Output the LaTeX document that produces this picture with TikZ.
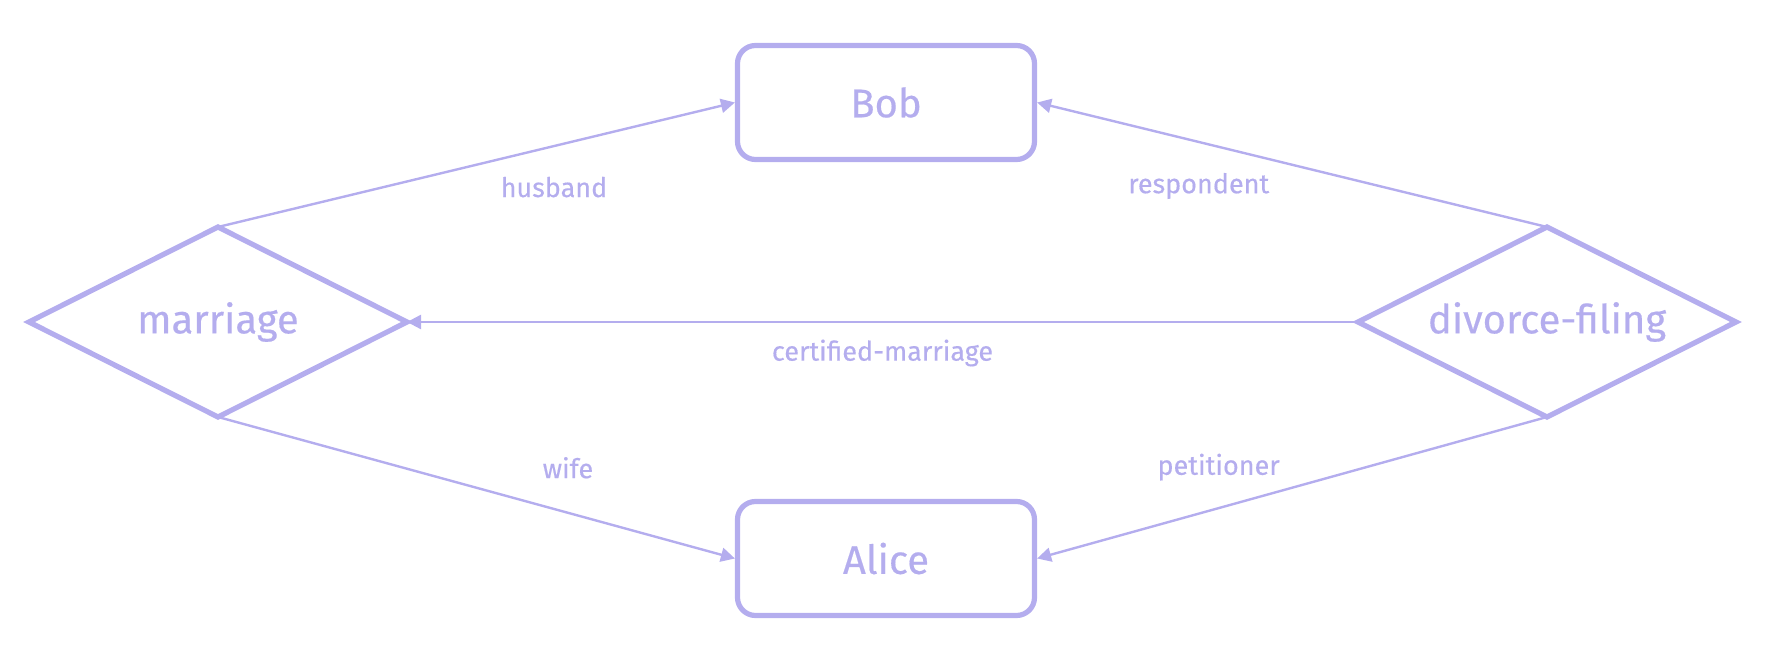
\documentclass[tikz,border=0pt]{standalone}
\usepackage{fontspec}
\setmainfont{Fira Sans}[FakeBold=0.4]
\usepackage{tikz}
\usetikzlibrary{arrows.meta, shapes.geometric}
\definecolor{lavender}{RGB}{180,173,238}

\begin{document}
\begin{tikzpicture}[x=0.5pt, y=-0.5pt,
	entity/.style={draw=lavender, line width=2.6pt, rounded corners=9pt,
		minimum width=148.5pt, minimum height=57pt, text=lavender,
		font=\fontsize{20}{24}\selectfont},
	relation/.style={diamond, draw=lavender, line width=2.6pt, outer sep=0pt,
		minimum width=189pt, minimum height=95pt, inner sep=0pt, text=lavender,
		font=\fontsize{20}{24}\selectfont},
	link/.style={draw=lavender, line width=1.2pt, -{Triangle[length=7pt, width=7pt]}},
	lbl/.style={text=lavender, font=\fontsize{13.5}{16}\selectfont}]
	\useasboundingbox (0,0) rectangle (1773,672);

	\node[entity] (bob) at (886,102.5) {Bob};
	\node[entity] (alice) at (886,558.5) {Alice};

	\node[relation] (marriage) at (218,322) {\makebox[0pt]{marriage}};
	\node[relation] (divorce) at (1547,322) {\makebox[0pt]{divorce-filing}};

	\draw[link] (marriage.north) -- node[lbl, pos=0.65, yshift=-20.5pt] {husband} (bob.west);
	\draw[link] (divorce.north) -- node[lbl, pos=0.683, yshift=-22pt] {respondent} (bob.east);
	\draw[link] (divorce.west) -- node[lbl, yshift=-15.5pt] {certified-marriage} (marriage.east);
	\draw[link] (marriage.south) -- node[lbl, pos=0.677, yshift=22.5pt] {wife} (alice.west);
	\draw[link] (divorce.south) -- node[lbl, pos=0.644, yshift=20.5pt] {petitioner} (alice.east);
\end{tikzpicture}
\end{document}
